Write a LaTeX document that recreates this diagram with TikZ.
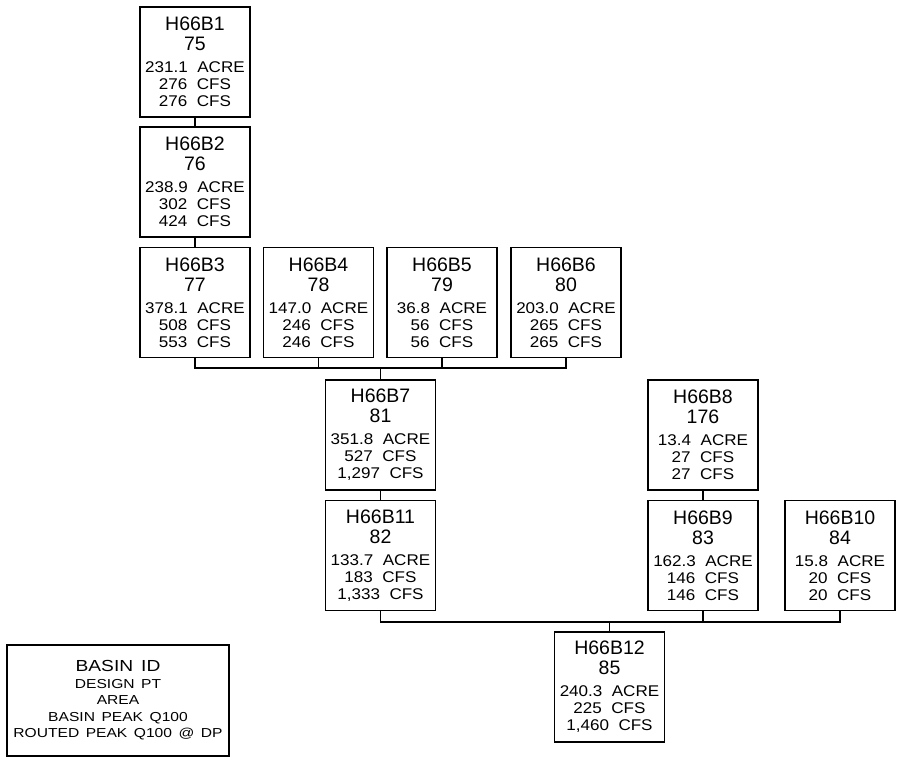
\documentclass[tikz,border=0pt]{standalone}
\usepackage{fontspec}
\setmainfont{Liberation Sans}[FakeStretch=1.1,WordSpace=2]
\newfontfamily\idfont{Liberation Sans}
\newfontfamily\legendfont{Liberation Sans}[FakeStretch=1.2,WordSpace=1.5]
\newcommand{\idsize}{\idfont\fontsize{19.5}{21}\selectfont}
\begin{document}
\begin{tikzpicture}[x=1pt,y=-1pt]
\tikzstyle{basin}=[anchor=center,minimum width=110,minimum height=110,rectangle,draw=black,line width=1.5pt,inner sep=0pt,align=center,font=\fontsize{15.5}{17}\selectfont]
\tikzstyle{legend}=[basin,minimum width=222,minimum height=111,font=\legendfont\fontsize{13}{16.5}\selectfont]
\tikzstyle{wire}=[line width=1.5pt]

\useasboundingbox (0,0) rectangle (899,761);

\node [basin] at (195,62) (b1) {{\idsize H66B1}\\[3pt]{\idsize 75}\\[5pt]231.1 ACRE\\276 CFS\\276 CFS};
\node [basin] at (195,182) (b2) {{\idsize H66B2}\\[3pt]{\idsize 76}\\[5pt]238.9 ACRE\\302 CFS\\424 CFS};

\node [basin] at (195,302.5) (b3) {{\idsize H66B3}\\[3pt]{\idsize 77}\\[5pt]378.1 ACRE\\508 CFS\\553 CFS};
\node [basin] at (318.5,302.5) (b4) {{\idsize H66B4}\\[3pt]{\idsize 78}\\[5pt]147.0 ACRE\\246 CFS\\246 CFS};
\node [basin] at (442,302.5) (b5) {{\idsize H66B5}\\[3pt]{\idsize 79}\\[5pt]36.8 ACRE\\56 CFS\\56 CFS};
\node [basin] at (566,302.5) (b6) {{\idsize H66B6}\\[3pt]{\idsize 80}\\[5pt]203.0 ACRE\\265 CFS\\265 CFS};

\node [basin] at (380.5,435) (b7) {{\idsize H66B7}\\[3pt]{\idsize 81}\\[5pt]351.8 ACRE\\527 CFS\\1,297 CFS};
\node [basin] at (380.5,555.5) (b11) {{\idsize H66B11}\\[3pt]{\idsize 82}\\[5pt]133.7 ACRE\\183 CFS\\1,333 CFS};

\node [basin] at (703,435) (b8) {{\idsize H66B8}\\[3pt]{\idsize 176}\\[5pt]13.4 ACRE\\27 CFS\\27 CFS};
\node [basin] at (703,555.5) (b9) {{\idsize H66B9}\\[3pt]{\idsize 83}\\[5pt]162.3 ACRE\\146 CFS\\146 CFS};
\node [basin] at (840,555.5) (b10) {{\idsize H66B10}\\[3pt]{\idsize 84}\\[5pt]15.8 ACRE\\20 CFS\\20 CFS};

\node [basin] at (609.5,687) (b12) {{\idsize H66B12}\\[3pt]{\idsize 85}\\[5pt]240.3 ACRE\\225 CFS\\1,460 CFS};

\node [legend] at (118,700.5) (key) {{\fontsize{16}{17}\selectfont BASIN ID}\\DESIGN PT\\AREA\\BASIN PEAK Q100\\ROUTED PEAK Q100 @ DP};

% junctions
\coordinate (j7) at (380.5,368);
\coordinate (j12) at (609.5,622);

\draw [wire] (b1) -- (b2);
\draw [wire] (b2) -- (b3);
\draw [wire] (b3.south) |- (j7);
\draw [wire] (b4.south) |- (j7);
\draw [wire] (b5.south) |- (j7);
\draw [wire] (b6.south) |- (j7);
\draw [wire] (j7) -- (b7);
\draw [wire] (b7) -- (b11);
\draw [wire] (b8) -- (b9);
\draw [wire] (b11.south) |- (j12);
\draw [wire] (b9.south) |- (j12);
\draw [wire] (b10.south) |- (j12);
\draw [wire] (j12) -- (b12);
\end{tikzpicture}
\end{document}
